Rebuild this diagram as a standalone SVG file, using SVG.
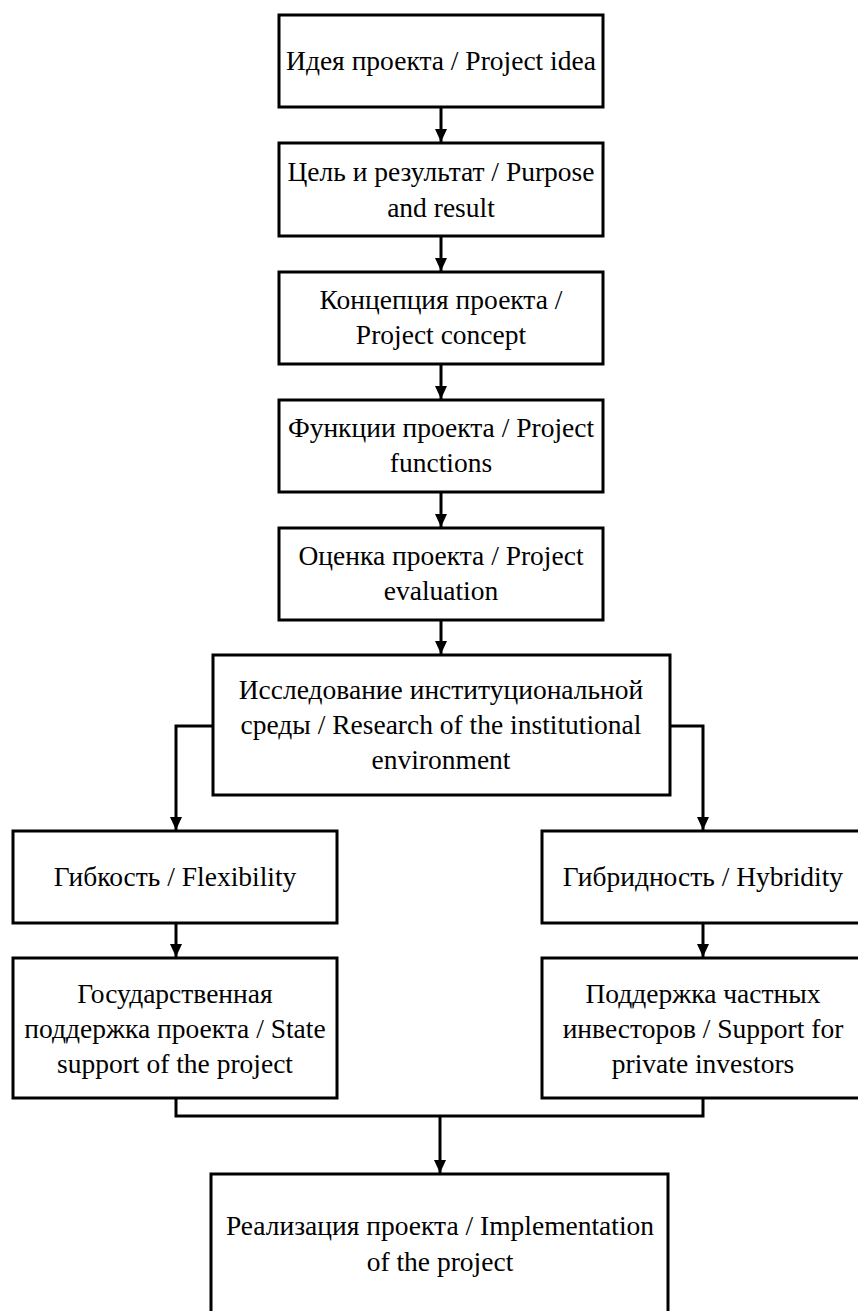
<svg xmlns="http://www.w3.org/2000/svg" width="858" height="1311" viewBox="0 0 858 1311">
<style>
.box{fill:#fff;stroke:#000;stroke-width:3}
.t{font-family:"Liberation Serif","Times New Roman",serif;font-size:27.5px;fill:#000;text-anchor:middle}
.c{fill:none;stroke:#000;stroke-width:3}
</style>
<defs>
<marker id="ah" markerWidth="13" markerHeight="12" refX="13" refY="6" orient="auto" markerUnits="userSpaceOnUse" viewBox="0 0 13 12">
<path d="M0,0 L13,6 L0,12 Z" fill="#000"/>
</marker>
</defs>
<rect width="858" height="1311" fill="#fff"/>
<g id="connectors">
<path class="c" d="M441,107 V142" marker-end="url(#ah)"/>
<path class="c" d="M441,236 V271" marker-end="url(#ah)"/>
<path class="c" d="M441,364 V399" marker-end="url(#ah)"/>
<path class="c" d="M441,492 V527" marker-end="url(#ah)"/>
<path class="c" d="M441,620 V654" marker-end="url(#ah)"/>
<path class="c" d="M213,726 H176 V830" marker-end="url(#ah)"/>
<path class="c" d="M670,726 H703 V830" marker-end="url(#ah)"/>
<path class="c" d="M176,923 V957" marker-end="url(#ah)"/>
<path class="c" d="M703,923 V957" marker-end="url(#ah)"/>
<path class="c" d="M176,1098 V1116 H703 V1098"/>
<path class="c" d="M440,1116 V1173" marker-end="url(#ah)"/>
</g>
<g id="n1"><rect class="box" x="279" y="15" width="324" height="92"/>
<text class="t" x="441" y="70">Идея проекта / Project idea</text></g>
<g id="n2"><rect class="box" x="279" y="143" width="324" height="93"/>
<text class="t" x="441" y="181">Цель и результат / Purpose</text>
<text class="t" x="441" y="217">and result</text></g>
<g id="n3"><rect class="box" x="279" y="272" width="324" height="92"/>
<text class="t" x="441" y="309">Концепция проекта /</text>
<text class="t" x="441" y="344">Project concept</text></g>
<g id="n4"><rect class="box" x="279" y="400" width="324" height="92"/>
<text class="t" x="441" y="437">Функции проекта / Project</text>
<text class="t" x="441" y="472">functions</text></g>
<g id="n5"><rect class="box" x="279" y="528" width="324" height="92"/>
<text class="t" x="441" y="565">Оценка проекта / Project</text>
<text class="t" x="441" y="600">evaluation</text></g>
<g id="n6"><rect class="box" x="213" y="655" width="457" height="140"/>
<text class="t" x="441" y="699">Исследование институциональной</text>
<text class="t" x="441" y="734">среды / Research of the institutional</text>
<text class="t" x="441" y="769">environment</text></g>
<g id="n7"><rect class="box" x="13" y="831" width="324" height="92"/>
<text class="t" x="175" y="886">Гибкость / Flexibility</text></g>
<g id="n8"><rect class="box" x="542" y="831" width="322" height="92"/>
<text class="t" x="703" y="886">Гибридность / Hybridity</text></g>
<g id="n9"><rect class="box" x="13" y="958" width="324" height="140"/>
<text class="t" x="175" y="1003">Государственная</text>
<text class="t" x="175" y="1038">поддержка проекта / State</text>
<text class="t" x="175" y="1073">support of the project</text></g>
<g id="n10"><rect class="box" x="542" y="958" width="322" height="140"/>
<text class="t" x="703" y="1003">Поддержка частных</text>
<text class="t" x="703" y="1038">инвесторов / Support for</text>
<text class="t" x="703" y="1073">private investors</text></g>
<g id="n11"><rect class="box" x="211" y="1174" width="457" height="150"/>
<text class="t" x="440" y="1235">Реализация проекта / Implementation</text>
<text class="t" x="440" y="1271">of the project</text></g>
</svg>
